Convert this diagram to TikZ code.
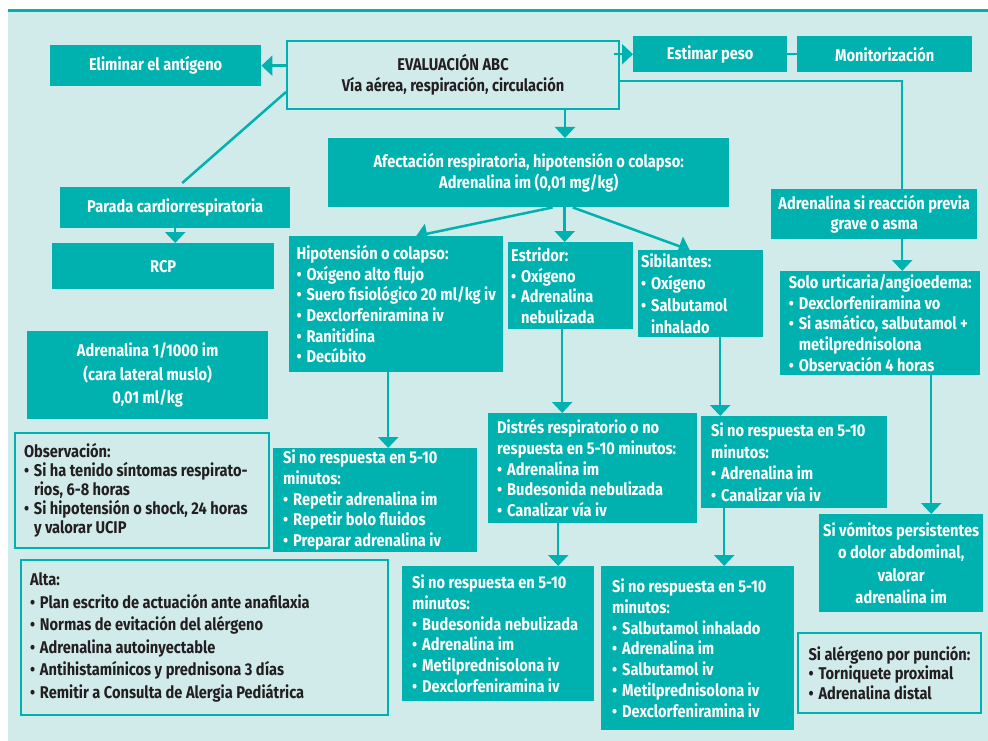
\documentclass[tikz,border=0pt]{standalone}
\usepackage{fontspec}
\setmainfont{Fira Sans}[FakeStretch=0.86]
\usepackage{xcolor}
\usepackage{tikz}
\usetikzlibrary{arrows.meta, positioning}

\definecolor{tealA}{HTML}{00B2AF}
\definecolor{paleA}{HTML}{D1EAEA}
\definecolor{inkA}{HTML}{231F20}

\newcommand\bul{\makebox[10pt][l]{\textbullet}}
\newcommand\ind{\hspace*{10pt}}

\begin{document}
\begin{tikzpicture}[x=1pt, y=-1pt,
    % Styles
    tealbox/.style={
        rectangle,
        fill=tealA,
        text=white,
        inner sep=0pt,
        anchor=north west,
        font=\bfseries\fontsize{17}{20.7}\selectfont
    },
    outbox/.style={
        rectangle,
        draw=tealA,
        line width=2pt,
        fill=paleA,
        text=inkA,
        inner sep=0pt,
        anchor=north west,
        font=\bfseries\fontsize{17}{20.7}\selectfont
    },
    conn/.style={draw=tealA, line width=2.5pt},
    arr/.style={conn, -{Triangle[width=20pt,length=11pt]}}
]

% Background and frame
\useasboundingbox (0,0) rectangle (988,741);
\fill[paleA] (8,10) rectangle (988,741);
\draw[tealA, line width=3pt] (8,10.5) -- (988,10.5);

% Top row
\node[outbox, align=center, minimum width=332pt, minimum height=68pt] (eval) at (286,40) {
    EVALUACIÓN ABC\\
    Vía aérea, respiración, circulación
};
\node[tealbox, align=center, minimum width=211pt, minimum height=41pt] (elim) at (50,45) {Eliminar el antígeno};
\node[tealbox, align=center, minimum width=154pt, minimum height=36pt] (est) at (633,36) {Estimar peso};
\node[tealbox, align=center, minimum width=175pt, minimum height=36pt] (mon) at (797,36) {Monitorización};

% Central branch
\node[tealbox, align=center, minimum width=401pt, minimum height=69pt] (afect) at (328,138) {
    Afectación respiratoria, hipotensión o colapso:\\
    Adrenalina im (0,01 mg/kg)
};
\node[tealbox, align=left, minimum width=214pt, minimum height=136pt] (hip) at (289,236) {
    Hipotensión o colapso:\\
    \bul Oxígeno alto flujo\\
    \bul Suero fisiológico 20 ml/kg iv\\
    \bul Dexclorfeniramina iv\\
    \bul Ranitidina\\
    \bul Decúbito
};
\node[tealbox, align=flush left, inner xsep=3pt, text width=119pt, minimum height=87pt] (estr) at (508,242) {
    Estridor:\\
    \bul Oxígeno\\
    \bul Adrenalina\\
    \ind nebulizada
};
\node[tealbox, align=flush left, inner xsep=3pt, text width=119pt, minimum height=87pt, font=\bfseries\fontsize{17}{22}\selectfont] (sib) at (638,250) {
    Sibilantes:\\
    \bul Oxígeno\\
    \bul Salbutamol\\
    \ind inhalado
};
\node[tealbox, align=flush left, inner xsep=10pt, text width=184pt, minimum height=104pt] (nrhip) at (273,448) {
    Si no respuesta en 5-10\\
    minutos:\\
    \bul Repetir adrenalina im\\
    \bul Repetir bolo fluidos\\
    \bul Preparar adrenalina iv
};
\node[tealbox, align=flush left, inner xsep=9pt, text width=191pt, minimum height=110pt] (distres) at (488,413) {
    Distrés respiratorio o no\\
    respuesta en 5-10 minutos:\\
    \bul Adrenalina im\\
    \bul Budesonida nebulizada\\
    \bul Canalizar vía iv
};
\node[tealbox, align=flush left, inner xsep=10pt, text width=166pt, minimum height=92pt, font=\bfseries\fontsize{17}{21.5}\selectfont] (nrsib) at (701,416) {
    Si no respuesta en 5-10\\
    minutos:\\
    \bul Adrenalina im\\
    \bul Canalizar vía iv
};
\node[tealbox, align=flush left, inner xsep=10pt, text width=172pt, minimum height=135pt] (nr1) at (402,566) {
    Si no respuesta en 5-10\\
    minutos:\\
    \bul Budesonida nebulizada\\
    \bul Adrenalina im\\
    \bul Metilprednisolona iv\\
    \bul Dexclorfeniramina iv
};
\node[tealbox, align=flush left, inner xsep=11pt, text width=171pt, minimum height=164pt] (nr2) at (601,566) {
    Si no respuesta en 5-10\\
    minutos:\\
    \bul Salbutamol inhalado\\
    \bul Adrenalina im\\
    \bul Salbutamol iv\\
    \bul Metilprednisolona iv\\
    \bul Dexclorfeniramina iv
};

% Right branch
\node[tealbox, align=center, minimum width=206pt, minimum height=50pt] (prev) at (771,189) {
    Adrenalina si reacción previa\\
    grave o asma
};
\node[tealbox, align=left, minimum width=200pt, minimum height=104pt] (solo) at (780,271) {
    Solo urticaria/angioedema:\\
    \bul Dexclorfeniramina vo\\
    \bul Si asmático, salbutamol +\\
    \ind metilprednisolona\\
    \bul Observación 4 horas
};
\node[tealbox, align=center, minimum width=164pt, minimum height=98pt, font=\bfseries\fontsize{17}{22.5}\selectfont] (vomit) at (819,514) {
    Si vómitos persistentes\\
    o dolor abdominal,\\
    valorar\\
    adrenalina im
};
\node[outbox, align=left, minimum width=183pt, minimum height=80pt, font=\bfseries\fontsize{17}{19.3}\selectfont] (puncion) at (797,632) {
    Si alérgeno por punción:\\
    \bul Torniquete proximal\\
    \bul Adrenalina distal
};

% Left column
\node[tealbox, align=center, minimum width=230pt, minimum height=41pt] (parada) at (60,187) {Parada cardiorrespiratoria};
\node[tealbox, align=center, minimum width=222pt, minimum height=46pt] (rcp) at (52,243) {RCP};
\node[tealbox, align=center, minimum width=241pt, minimum height=88pt, font=\bfseries\fontsize{17}{23.3}\selectfont] (adr) at (27,331) {
    Adrenalina 1/1000 im\\
    (cara lateral muslo)\\
    0,01 ml/kg
};
\node[outbox, align=flush left, inner xsep=9pt, text width=236pt, minimum height=115pt, font=\bfseries\fontsize{17}{19}\selectfont] (obs) at (14,432) {
    Observación:\\
    \bul Si ha tenido síntomas respirato-\\
    \ind rios, 6-8 horas\\
    \bul Si hipotensión o shock, 24 horas\\
    \ind y valorar UCIP
};
\node[outbox, align=flush left, inner xsep=9pt, text width=349pt, minimum height=155pt, font=\bfseries\fontsize{17}{22.5}\selectfont] (alta) at (20,559) {
    Alta:\\
    \bul Plan escrito de actuación ante anafilaxia\\
    \bul Normas de evitación del alérgeno\\
    \bul Adrenalina autoinyectable\\
    \bul Antihistamínicos y prednisona 3 días\\
    \bul Remitir a Consulta de Alergia Pediátrica
};

% Connectors
\draw[arr] (eval.west |- elim.east) -- (elim.east);
\draw[arr] ([xshift=-6pt]eval.east |- est.west) -- (est.west);
\draw[conn] (est.east) -- (mon.west);
\draw[conn] ([yshift=-6pt]eval.east) -| ([xshift=28pt]prev.north);
\draw[conn] ([yshift=-17pt]eval.west) -- ([xshift=7pt, yshift=4pt]parada.north);
\draw[arr] ([xshift=112pt]eval.south) -- ([xshift=112pt]eval.south |- afect.north);
\draw[arr] (parada.south) -- (parada.south |- rcp.north);
\draw[arr] ([xshift=24pt]afect.south) -- ([xshift=20pt]hip.north);
\draw[arr] ([xshift=36pt]afect.south) -- ([xshift=36pt]afect.south |- estr.north);
\draw[arr] ([xshift=44pt]afect.south) -- ([xshift=-11pt]sib.north);
\draw[arr] ([xshift=-8pt]hip.south) -- ([xshift=-8pt]hip.south |- nrhip.north);
\draw[arr] ([xshift=-8.5pt]estr.south) -- ([xshift=-8.5pt]estr.south |- distres.north);
\draw[arr] ([xshift=19.5pt]sib.south) -- ([xshift=19.5pt]sib.south |- nrsib.north);
\draw[arr] ([xshift=-34.5pt]distres.south) -- ([xshift=-34.5pt]distres.south |- nr1.north);
\draw[arr] ([xshift=-70pt]nrsib.south) -- ([xshift=-70pt]nrsib.south |- nr2.north);
\draw[arr] ([xshift=28pt]prev.south) -- ([xshift=28pt]prev.south |- solo.north);
\draw[arr] ([xshift=51pt]solo.south) -- ([xshift=51pt]solo.south |- vomit.north);

\end{tikzpicture}
\end{document}
